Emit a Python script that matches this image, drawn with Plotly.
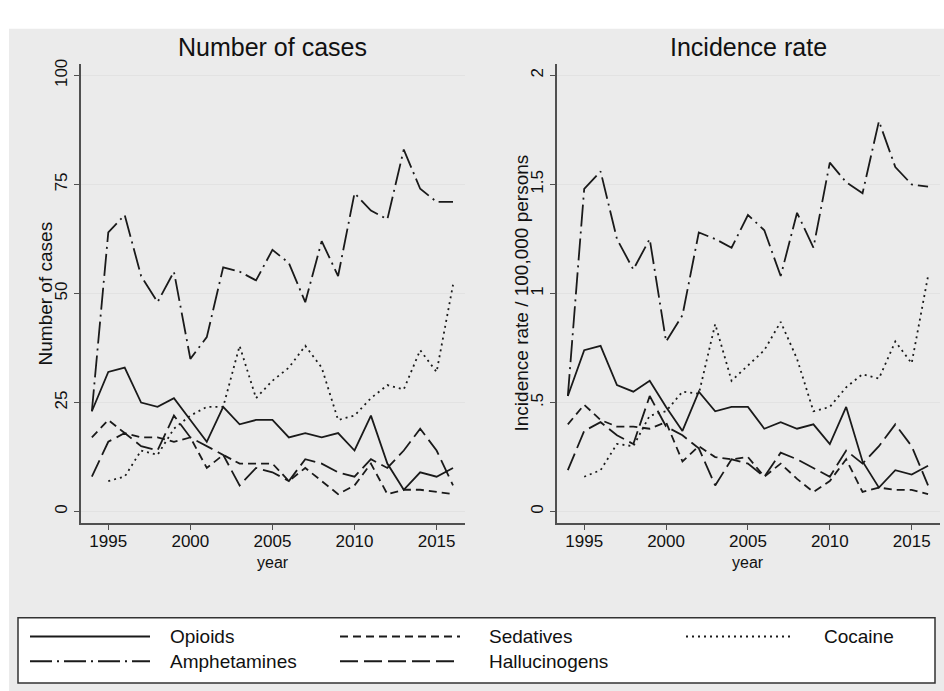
import plotly.graph_objects as go

# ---------------- data ----------------
years = list(range(1994, 2017))

opioids_n = [23, 32, 33, 25, 24, 26, 21, 16, 24, 20, 21, 21, 17, 18, 17, 18, 14, 22, 11, 5, 9, 8, 10]
sedatives_n = [17, 21, 18, 17, 17, 16, 17, 10, 13, 11, 11, 11, 7, 10, 7, 4, 6, 11, 4, 5, 5, 4.5, 4]
cocaine_n = [None, 7, 8, 14, 13, 19, 22, 24, 24, 38, 26, 30, 33, 38, 33, 21, 22, 26, 29, 28, 37, 32, 52]
amphetamines_n = [23, 64, 68, 54, 48, 55, 35, 40, 56, 55, 53, 60, 57, 48, 62, 54, 73, 69, 67, 83, 74, 71, 71]
hallucinogens_n = [8, 16, 18, 15, 14, 22, 17, 15, 13, 6, 10, 9, 7, 12, 11, 9, 8, 12, 10, 14, 19, 14, 6]

opioids_r = [0.53, 0.74, 0.76, 0.58, 0.55, 0.60, 0.48, 0.37, 0.55, 0.46, 0.48, 0.48, 0.38, 0.41, 0.38, 0.40, 0.31, 0.48, 0.23, 0.11, 0.19, 0.17, 0.21]
sedatives_r = [0.40, 0.49, 0.42, 0.39, 0.39, 0.38, 0.41, 0.23, 0.30, 0.25, 0.24, 0.25, 0.16, 0.22, 0.15, 0.09, 0.14, 0.24, 0.09, 0.11, 0.10, 0.10, 0.08]
cocaine_r = [None, 0.16, 0.19, 0.31, 0.30, 0.44, 0.46, 0.55, 0.54, 0.86, 0.60, 0.67, 0.74, 0.87, 0.70, 0.46, 0.48, 0.57, 0.63, 0.61, 0.78, 0.68, 1.08]
amphetamines_r = [0.53, 1.48, 1.56, 1.25, 1.11, 1.25, 0.78, 0.90, 1.28, 1.25, 1.21, 1.36, 1.29, 1.08, 1.37, 1.21, 1.60, 1.51, 1.46, 1.79, 1.58, 1.50, 1.49]
hallucinogens_r = [0.19, 0.37, 0.41, 0.35, 0.31, 0.53, 0.39, 0.35, 0.29, 0.12, 0.24, 0.22, 0.16, 0.27, 0.24, 0.20, 0.16, 0.28, 0.22, 0.30, 0.40, 0.30, 0.12]

series_names = ["Opioids", "Sedatives", "Cocaine", "Amphetamines", "Hallucinogens"]
x_ticks = [1995, 2000, 2005, 2010, 2015]
y1_ticks = [0, 25, 50, 75, 100]
y2_ticks = [0, 0.5, 1, 1.5, 2]
y2_ticktext = ["0", ".5", "1", "1.5", "2"]

# ---------------- style ----------------
W, H = 944, 691
FONT = "Liberation Sans, Arial, Helvetica, sans-serif"
LC = "#1a1a1a"
LW = 1.8
BG = "#ebebeb"
AXC = "#505050"
GRID = "#e2e2e2"
TXT = "#111"
dashes = {
    "Opioids": "solid",
    "Sedatives": "8px,5px",
    "Cocaine": "2px,4px",
    "Amphetamines": "22px,5px,2px,5px",
    "Hallucinogens": "18px,6px",
}


def px(x):
    return x / W


def py(y):
    return 1 - y / H


counts = dict(zip(series_names, [opioids_n, sedatives_n, cocaine_n, amphetamines_n, hallucinogens_n]))
rates = dict(zip(series_names, [opioids_r, sedatives_r, cocaine_r, amphetamines_r, hallucinogens_r]))

fig = go.Figure()
for name in series_names:
    fig.add_trace(go.Scatter(x=years, y=counts[name], mode="lines", name=name,
                             line=dict(color=LC, width=LW, dash=dashes[name]),
                             xaxis="x", yaxis="y", showlegend=False, hoverinfo="skip"))
    fig.add_trace(go.Scatter(x=years, y=rates[name], mode="lines", name=name,
                             line=dict(color=LC, width=LW, dash=dashes[name]),
                             xaxis="x2", yaxis="y2", showlegend=False, hoverinfo="skip"))

# plot region pixel geometry
L1, R1 = 80.7, 465.0
L2, R2 = 556.7, 940.0
TOP, BOT = 59.0, 521.7

common_x = dict(showline=True, linecolor=AXC, linewidth=1.5, ticks="outside", ticklen=5,
                tickwidth=1, tickcolor=AXC, showgrid=False, zeroline=False,
                ticklabelstandoff=-3,
                tickvals=x_ticks, tickfont=dict(family=FONT, size=17, color=TXT))
common_y = dict(showline=True, linecolor=AXC, linewidth=1.5, ticks="outside", ticklen=5,
                tickwidth=1, tickcolor=AXC, showgrid=True, gridcolor=GRID, gridwidth=1.2,
                zeroline=False, tickangle=-90, tickfont=dict(family=FONT, size=17, color=TXT))

fig.update_layout(
    width=W, height=H,
    margin=dict(l=0, r=0, t=0, b=0),
    paper_bgcolor="white",
    plot_bgcolor="white",
    xaxis=dict(domain=[px(L1), px(R1)], range=[1993.32, 2016.73], anchor="y", **common_x),
    yaxis=dict(domain=[py(BOT), py(TOP)], range=[-2.66, 102.5], anchor="x",
               tickvals=y1_ticks, **common_y),
    xaxis2=dict(domain=[px(L2), px(R2)], range=[1993.32, 2016.73], anchor="y2", **common_x),
    yaxis2=dict(domain=[py(BOT), py(TOP)], range=[-0.053, 2.05], anchor="x2",
                tickvals=y2_ticks, ticktext=y2_ticktext, **common_y),
    showlegend=False,
)

shapes = []
# grey graph background
shapes.append(dict(type="rect", xref="paper", yref="paper", x0=px(9), x1=1.0, y0=0, y1=py(23),
                   fillcolor=BG, line=dict(width=0), layer="below"))
# legend box
LBX0, LBX1, LBY0, LBY1 = 18, 935, 617, 683
shapes.append(dict(type="rect", xref="paper", yref="paper", x0=px(LBX0), x1=px(LBX1),
                   y0=py(LBY1), y1=py(LBY0), fillcolor="white",
                   line=dict(color="#333", width=1.5), layer="above"))

annotations = []
# legend entries: (name, sample x0, sample x1, text x, row y)
row1, row2 = 636, 661
legend_items = [
    ("Opioids", 30, 150, 168, row1),
    ("Sedatives", 340, 460, 487, row1),
    ("Cocaine", 686, 792, 822, row1),
    ("Amphetamines", 30, 150, 168, row2),
    ("Hallucinogens", 340, 460, 487, row2),
]
for name, sx0, sx1, tx, ry in legend_items:
    shapes.append(dict(type="line", xref="paper", yref="paper", x0=px(sx0), x1=px(sx1),
                       y0=py(ry), y1=py(ry), line=dict(color=LC, width=LW, dash=dashes[name]),
                       layer="above"))
    annotations.append(dict(text=name, xref="paper", yref="paper", x=px(tx), y=py(ry),
                            xanchor="left", yanchor="middle", showarrow=False,
                            font=dict(family=FONT, size=19, color=TXT)))

# titles
for txt, cx in [("Number of cases", (L1 + R1) / 2), ("Incidence rate", (L2 + R2) / 2)]:
    annotations.append(dict(text=txt, xref="paper", yref="paper", x=px(cx), y=py(41),
                            xanchor="center", yanchor="middle", showarrow=False,
                            font=dict(family=FONT, size=25, color=TXT)))
    annotations.append(dict(text="year", xref="paper", yref="paper", x=px(cx), y=py(561),
                            xanchor="center", yanchor="middle", showarrow=False,
                            font=dict(family=FONT, size=16, color=TXT)))
# y titles
for txt, cx in [("Number of cases", 45), ("Incidence rate / 100,000 persons", 521)]:
    annotations.append(dict(text=txt, xref="paper", yref="paper", x=px(cx), y=py(290),
                            xanchor="center", yanchor="middle", showarrow=False, textangle=-90,
                            font=dict(family=FONT, size=19, color=TXT)))

fig.update_layout(shapes=shapes, annotations=annotations)
fig.write_html("out.html")
